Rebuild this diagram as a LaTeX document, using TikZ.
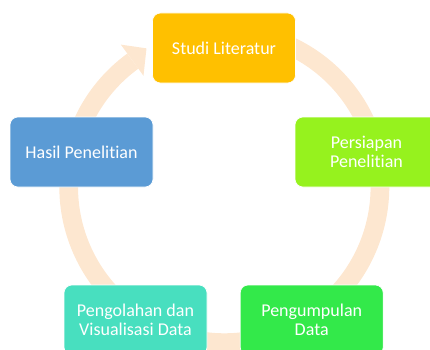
\documentclass[tikz,border=0pt]{standalone}
\usepackage{fontspec}
\setmainfont[Ligatures=NoCommon]{Carlito}
\usetikzlibrary{calc}
\definecolor{bandcol}{RGB}{253,231,208}
\definecolor{cStudi}{RGB}{255,192,0}
\definecolor{cHasil}{RGB}{91,155,213}
\definecolor{cPersiapan}{RGB}{150,242,30}
\definecolor{cOlah}{RGB}{72,223,191}
\definecolor{cKumpul}{RGB}{51,233,74}
\begin{document}
\begin{tikzpicture}[x=1pt,y=1pt,
  box/.style={draw=white, line width=0.6pt, rounded corners=8pt,
    minimum width=143pt, minimum height=70pt, inner sep=0pt,
    text=white, align=center, font=\fontsize{18}{19.5}\selectfont},
  band/.style={draw=bandcol, line width=18.7pt}]
\useasboundingbox (0,0) rectangle (430,349);
\clip (0,0) rectangle (430,349);
\coordinate (c) at (224.3,162);
% circular band behind the boxes
\draw[band] ($(c)+(112:155.6)$) arc[start angle=112, end angle=-234, radius=155.6];
% arrow head pointing to Studi Literatur
\fill[bandcol] ($(c)+(126:137.5)$) -- ($(c)+(126:176)$) -- ($(c)+(119.3:159)$) -- cycle;
% boxes
\node[box, fill=cStudi] (studi) at (224,301) {Studi Literatur};
\node[box, fill=cHasil] (hasil) at (81.5,197) {Hasil Penelitian};
\node[box, fill=cPersiapan] (persiapan) at (366.5,197) {Persiapan\\Penelitian};
\node[box, fill=cOlah] (olah) at (135.5,29) {Pengolahan dan\\Visualisasi Data};
\node[box, fill=cKumpul] (kumpul) at (311.7,29) {Pengumpulan\\Data};
\end{tikzpicture}
\end{document}
